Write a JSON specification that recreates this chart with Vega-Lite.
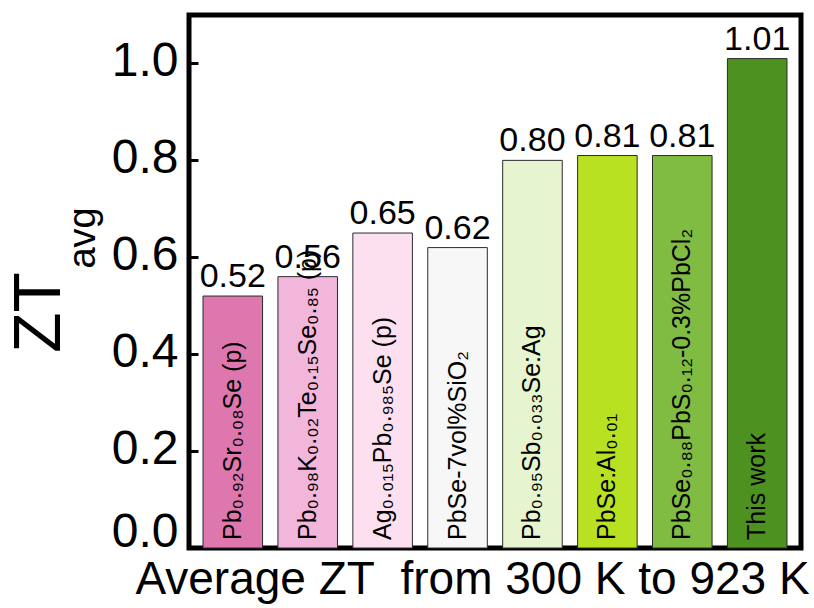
{
  "$schema": "https://vega.github.io/schema/vega-lite/v6.json",
  "width": 612,
  "height": 533,
  "autosize": "none",
  "padding": {"left": 189, "top": 15, "right": 13, "bottom": 60},
  "background": "white",
  "config": {
    "font": "Liberation Sans",
    "view": {"stroke": "black", "strokeWidth": 5},
    "text": {"font": "Liberation Sans", "color": "black"}
  },
  "data": {
    "values": [
      {"sample": "S1", "label": "Pb₀.₉₂Sr₀.₀₈Se (p)", "zt": 0.52},
      {"sample": "S2", "label": "Pb₀.₉₈K₀.₀₂Te₀.₁₅Se₀.₈₅ (p)", "zt": 0.56},
      {"sample": "S3", "label": "Ag₀.₀₁₅Pb₀.₉₈₅Se (p)", "zt": 0.65},
      {"sample": "S4", "label": "PbSe-7vol%SiO₂", "zt": 0.62},
      {"sample": "S5", "label": "Pb₀.₉₅Sb₀.₀₃₃Se:Ag", "zt": 0.80},
      {"sample": "S6", "label": "PbSe:Al₀.₀₁", "zt": 0.81},
      {"sample": "S7", "label": "PbSe₀.₈₈PbS₀.₁₂-0.3%PbCl₂", "zt": 0.81},
      {"sample": "S8", "label": "This work", "zt": 1.01}
    ]
  },
  "encoding": {
    "x": {
      "field": "sample",
      "type": "nominal",
      "sort": null,
      "scale": {"paddingInner": 0.205, "paddingOuter": 0.187},
      "axis": {
        "labels": false,
        "ticks": false,
        "domain": false,
        "title": "Average ZT\u00a0 from 300 K to 923 K",
        "titleFont": "Liberation Sans",
        "titleFontSize": 46,
        "titleFontWeight": "normal",
        "titleColor": "black",
        "titleX": 283,
        "titleAlign": "center",
        "titlePadding": 9
      }
    }
  },
  "layer": [
    {
      "mark": {"type": "bar", "stroke": "#2b2b2b", "strokeWidth": 1},
      "encoding": {
        "y": {
          "field": "zt",
          "type": "quantitative",
          "scale": {"domain": [0, 1.1], "nice": false, "zero": true},
          "axis": {
            "zindex": 2,
            "ticks": true,
            "offset": -9,
            "values": [0, 0.2, 0.4, 0.6, 0.8, 1.0],
            "format": ".1f",
            "labelFont": "Liberation Sans",
            "labelFontSize": 48,
            "labelColor": "black",
            "labelPadding": 11,
            "labelOffset": {"condition": {"test": "datum.value == 0", "value": -16}, "value": -2},
            "tickColor": "black",
            "tickWidth": 3,
            "tickSize": 9,
            "domain": false,
            "grid": false,
            "title": "ZT",
            "titleFont": "Liberation Sans",
            "titleFontSize": 66,
            "titleFontWeight": "normal",
            "titleColor": "black",
            "titleAngle": 270,
            "titleAlign": "center",
            "titleBaseline": "middle",
            "titleX": -159,
            "titleY": 297
          }
        },
        "color": {
          "field": "sample",
          "type": "nominal",
          "scale": {
            "domain": ["S1", "S2", "S3", "S4", "S5", "S6", "S7", "S8"],
            "range": ["#de77ae", "#f1b6da", "#fde0ef", "#f7f7f7", "#e6f5d0", "#b8e122", "#7fbc41", "#4d9221"]
          },
          "legend": null
        }
      }
    },
    {
      "mark": {"type": "text", "baseline": "bottom", "dy": -2, "fontSize": 34, "font": "Liberation Sans"},
      "encoding": {
        "y": {"field": "zt", "type": "quantitative"},
        "text": {"field": "zt", "type": "quantitative", "format": ".2f"}
      }
    },
    {
      "mark": {"type": "text", "angle": 270, "align": "left", "baseline": "middle", "dx": 8, "fontSize": 25, "font": "Liberation Sans"},
      "encoding": {
        "y": {"datum": 0},
        "text": {"field": "label", "type": "nominal"}
      }
    },
    {
      "data": {"values": [{"sub": "avg", "pos": 0.64}]},
      "mark": {"type": "text", "angle": 270, "align": "center", "baseline": "middle", "dy": -149, "fontSize": 38, "font": "Liberation Sans"},
      "encoding": {
        "x": {"datum": "S1"},
        "y": {"field": "pos", "type": "quantitative"},
        "text": {"field": "sub", "type": "nominal"}
      }
    }
  ]
}
